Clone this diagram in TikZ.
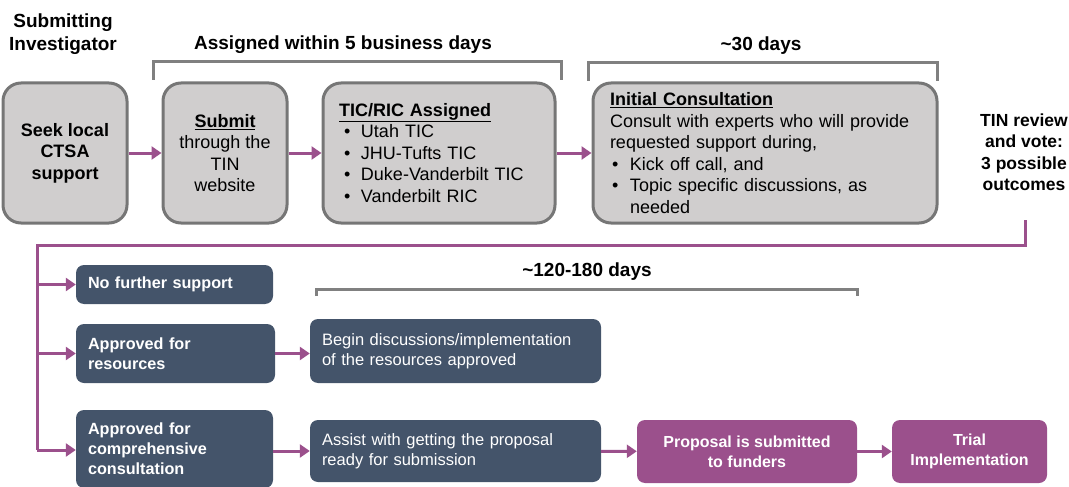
\documentclass[tikz,border=0pt]{standalone}
\usepackage{fontspec}
\setmainfont{Liberation Sans}
\usetikzlibrary{arrows.meta}
\definecolor{purp}{RGB}{155,80,140}
\definecolor{slate}{RGB}{68,84,106}
\definecolor{boxgray}{RGB}{208,206,206}
\definecolor{edgegray}{RGB}{118,118,118}
\definecolor{brk}{RGB}{128,128,128}
\newcommand{\bul}[1]{\makebox[#1][l]{\textbullet}}
\begin{document}
\begin{tikzpicture}[x=1pt,y=-1pt,
  graybox/.style={draw=edgegray, line width=3pt, fill=boxgray, rounded corners=18pt,
    inner sep=0pt, minimum height=140pt, font=\fontsize{18}{21.5}\selectfont},
  slatebox/.style={fill=slate, rounded corners=8pt, text=white, inner ysep=0pt, inner xsep=12pt,
    align=left},
  purpbox/.style={fill=purp, rounded corners=8pt, text=white, inner sep=0pt,
    font=\bfseries\fontsize{16}{20}\selectfont, align=center},
  flow/.style={draw=purp, line width=3pt, -{Triangle[length=10pt,width=13pt]}},
  purpline/.style={draw=purp, line width=3pt},
  bracket/.style={draw=brk, line width=3pt},
  head/.style={font=\bfseries\fontsize{19}{23.5}\selectfont, align=center, inner sep=0pt},
  bfs/.style={font=\bfseries\fontsize{16.2}{20}\selectfont},
  rgs/.style={font=\fontsize{16.5}{20}\selectfont}
]
\useasboundingbox (0,0) rectangle (1069,487);

% headers
\node[head] (subinv) at (63,34) {Submitting\\Investigator};
\node[head] (assigned) at (343,45) {Assigned within 5 business days};
\node[head] (thirty) at (761,46) {\textasciitilde 30 days};
\node[head, font=\bfseries\fontsize{17.5}{21.5}\selectfont] (tin) at (1024,152) {TIN review\\and vote:\\3 possible\\outcomes};

% brackets
\coordinate (b1l) at (153,80); \coordinate (b1r) at (561,80);
\draw[bracket] (b1l) -- ++(0,-18) -| (b1r);
\coordinate (b2l) at (588,81); \coordinate (b2r) at (937,81);
\draw[bracket] (b2l) -- ++(0,-18) -| (b2r);

% top boxes
\node[graybox, minimum width=124pt, align=center, font=\bfseries\fontsize{18}{21.5}\selectfont]
  (seek) at (65,153) {Seek local\\CTSA\\support};
\node[graybox, minimum width=124pt, align=center] (submit) at (225,153)
  {\underline{\textbf{Submit}}\\through the\\TIN\\website};
\node[graybox, minimum width=232pt, text width=200pt, align=left] (tic) at (439,153)
  {\underline{\textbf{TIC/RIC Assigned}}\\
   \hspace*{5pt}\bul{17pt}Utah TIC\\
   \hspace*{5pt}\bul{17pt}JHU-Tufts TIC\\
   \hspace*{5pt}\bul{17pt}Duke-Vanderbilt TIC\\
   \hspace*{5pt}\bul{17pt}Vanderbilt RIC};
\node[graybox, minimum width=344pt, text width=310pt, align=left] (init) at (765,153)
  {\underline{\textbf{Initial Consultation}}\\
   Consult with experts who will provide\\
   requested support during,\\
   \hspace*{2pt}\bul{18pt}Kick off call, and\\
   \hspace*{2pt}\bul{18pt}Topic specific discussions, as\\
   \hspace*{20pt}needed};

\draw[flow] (seek) -- (submit);
\draw[flow] (submit) -- (tic);
\draw[flow] (tic) -- (init);

% decision line
\coordinate (tinout) at (1025,220);
\coordinate (spine) at (37,245);
\coordinate (spineend) at (37,450);
\draw[purpline] (tinout) |- (spine) -- (spineend);

% bottom boxes
\node[slatebox, bfs, minimum width=197pt, text width=173pt, minimum height=39pt] (nofurther) at (174.5,284.5)
  {No further support};
\node[slatebox, bfs, minimum width=199pt, text width=175pt, minimum height=59pt] (resources) at (175.5,353.5)
  {Approved for\\resources};
\node[slatebox, bfs, minimum width=197pt, text width=173pt, minimum height=78pt] (compr) at (174.5,449)
  {Approved for\\comprehensive\\consultation};
\node[slatebox, rgs, minimum width=291pt, text width=267pt, minimum height=64pt] (begin) at (455.5,351)
  {Begin discussions/implementation\\of the resources approved};
\node[slatebox, rgs, minimum width=291pt, text width=267pt, minimum height=62pt] (assist) at (455.5,451)
  {Assist with getting the proposal\\ready for submission};
\node[purpbox, minimum width=220pt, minimum height=63pt] (proposal) at (747,451.5)
  {Proposal is submitted\\to funders};
\node[purpbox, minimum width=155pt, minimum height=63pt] (trial) at (969.5,451.5)
  {Trial\\Implementation};

\coordinate (j1) at (spine |- nofurther);
\coordinate (j2) at (spine |- resources);
\coordinate (j3) at (spineend);
\draw[flow] (j1) -- (nofurther);
\draw[flow] (j2) -- (resources);
\draw[flow] (j3) -- (j3 -| compr.west);
\draw[flow] (resources) -- (resources -| begin.west);
\draw[flow] (compr.east |- assist) -- (assist);
\draw[flow] (assist) -- (proposal);
\draw[flow] (proposal) -- (trial);

% 120-180 bracket
\node[head] (days) at (587,272) {\textasciitilde 120-180 days};
\coordinate (b3l) at (316,296); \coordinate (b3r) at (857,296);
\draw[bracket] (b3l) -- ++(0,-7) -| (b3r);
\end{tikzpicture}
\end{document}
